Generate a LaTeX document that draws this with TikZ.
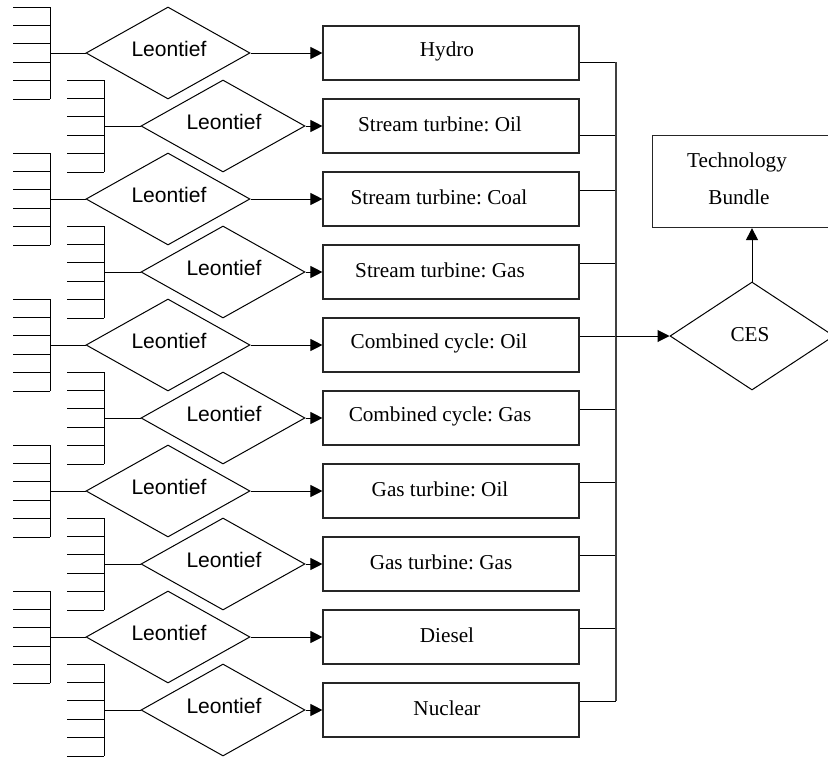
\documentclass[tikz,border=0pt]{standalone}
\usepackage{fontspec}
\setmainfont{Liberation Serif}
\newfontfamily\leofont{Liberation Sans}
\usetikzlibrary{shapes.geometric,arrows.meta,calc}
\frenchspacing
\begin{document}
\begin{tikzpicture}[x=0.75pt,y=-0.75pt,
  line width=0.75pt,
  lbox/.style={draw=black!85,line width=0.85pt,minimum width=192pt,minimum height=40.5pt,inner sep=0pt},
  btext/.style={inner sep=0pt,font=\frenchspacing\fontsize{15.9}{19}\selectfont},
  leo/.style={draw,shape=diamond,minimum width=123pt,minimum height=69pt,inner sep=0pt},
  leotext/.style={inner sep=0pt,font=\leofont\fontsize{15.8}{19}\selectfont},
  cesbox/.style={draw,shape=diamond,minimum width=123pt,minimum height=81pt,inner sep=0pt},
  arr/.style={-{Triangle[length=9pt,width=9pt]}},
  bus/.style={draw=black!75,line width=0.9pt}]
\useasboundingbox (0,0) rectangle (828,757);
\clip (0,0) rectangle (828,757);
\foreach \i/\lab/\tx in {0/Hydro/447, 1/{Stream turbine: Oil}/440, 2/{Stream turbine: Coal}/439,
  3/{Stream turbine: Gas}/440, 4/{Combined cycle: Oil}/439, 5/{Combined cycle: Gas}/440,
  6/{Gas turbine: Oil}/440, 7/{Gas turbine: Gas}/441, 8/Diesel/447, 9/Nuclear/447} {
  \pgfmathsetmacro\cy{53+73*\i}
  \pgfmathsetmacro\dx{mod(\i,2)==0 ? 168 : 223}
  \pgfmathsetmacro\vx{mod(\i,2)==0 ? 50 : 104}
  \pgfmathsetmacro\hx{\vx-37}
  \pgfmathsetmacro\ry{\i<2 ? \cy+9 : \cy-9}
  \node[lbox] (b\i) at (451,\cy) {};
  \node[btext] (t\i) at (\tx,\cy-2) {\lab};
  \node[leo] (d\i) at (\dx,\cy) {};
  \node[leotext] (l\i) at (\dx+1,\cy-4) {Leontief};
  \draw[arr] (d\i.east) -- (b\i.west);
  \coordinate (v\i) at (\vx,\cy);
  \draw (v\i) -- (d\i.west);
  \coordinate (vt\i) at (\vx,\cy-46);
  \coordinate (vb\i) at (\vx,\cy+46);
  \draw (vt\i) -- (vb\i);
  \foreach \k in {0,...,5} {
    \draw (\hx,\cy-46+18.4*\k) -- (\vx,\cy-46+18.4*\k);
  }
  \coordinate (r\i) at (616,\ry);
  \draw (b\i.east |- r\i) -- (r\i);
}
\draw[bus] (r0) -- (r9);
\node[cesbox] (ces) at (752,336) {};
\node[btext] (cest) at (750,335) {CES};
\draw[arr] (r4) -- (ces.west);
\node[draw=black!85,line width=0.85pt,minimum width=150pt,minimum height=69pt,anchor=north west,inner sep=0pt] (tb) at (652,135) {};
\node[btext] (tb1) at (737,162) {Technology};
\node[btext] (tb2) at (739,197) {Bundle};
\draw[arr] (ces.north) -- (ces.north |- tb.south);
\end{tikzpicture}
\end{document}
